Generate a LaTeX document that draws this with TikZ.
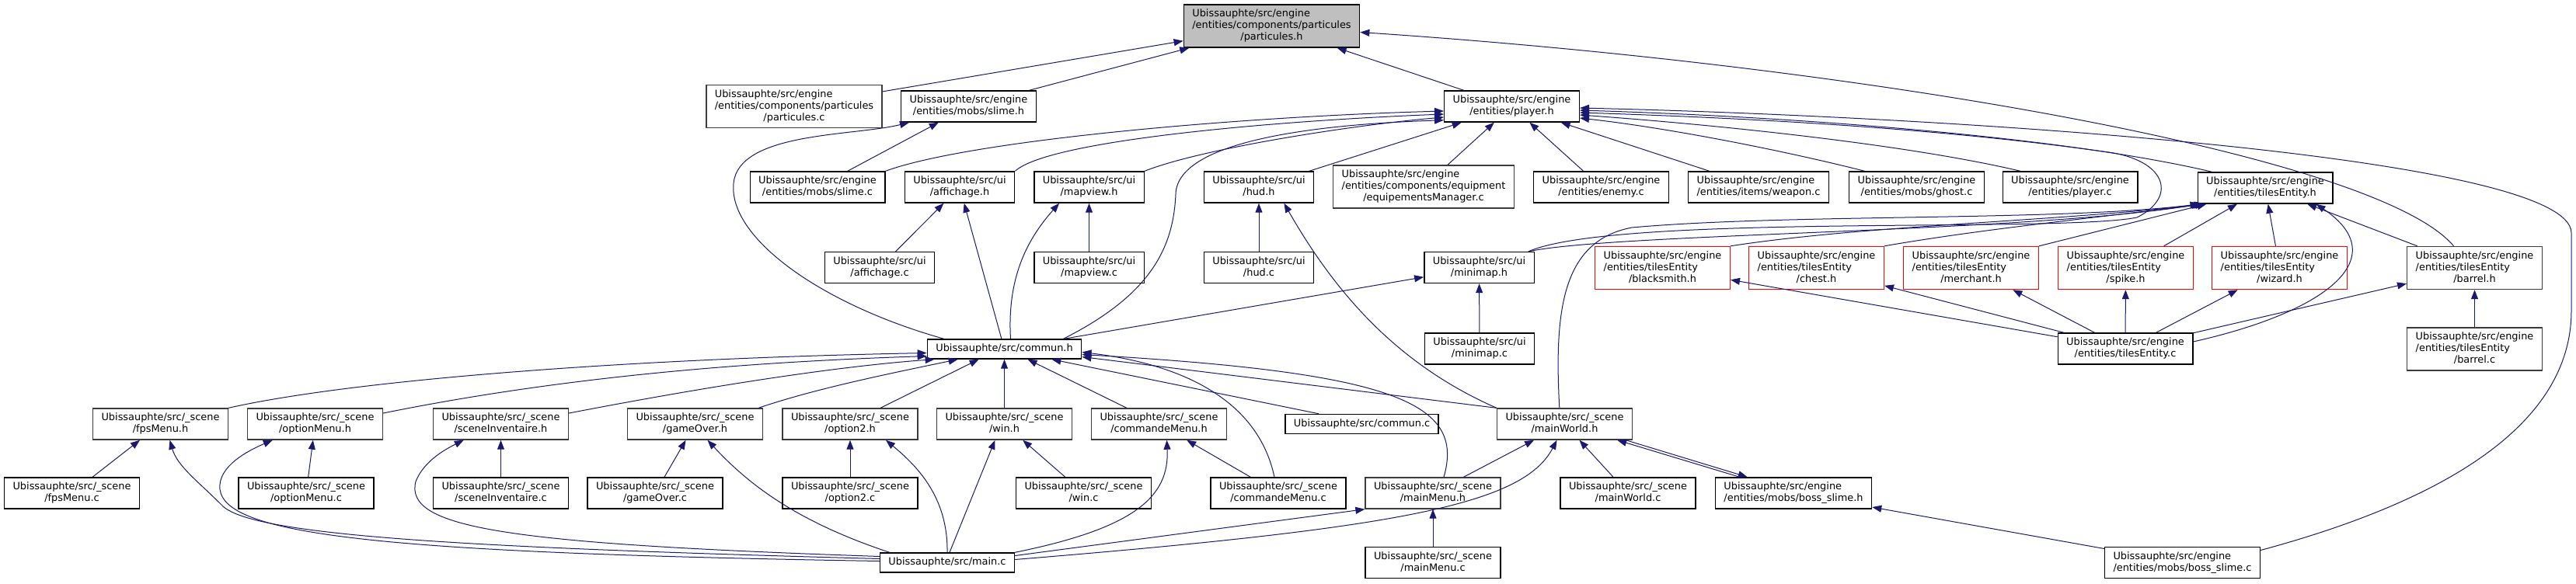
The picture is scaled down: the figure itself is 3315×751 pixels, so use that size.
\documentclass[tikz,border=0pt]{standalone}
\usepackage{fontspec}
\setmainfont{DejaVu Sans}
\usepackage{xcolor}
\usepackage{tikz}
\usetikzlibrary{arrows.meta,calc}
\definecolor{edgeblue}{RGB}{25,25,112}
\definecolor{rootgrey}{RGB}{191,191,191}
\definecolor{boxgrey}{RGB}{60,60,60}
\newcommand{\flab}[2]{\begin{tabular}{@{}l@{}}#1\\\multicolumn{1}{@{}c@{}}{#2}\end{tabular}}
\newcommand{\fone}[1]{\begin{tabular}{@{}c@{}}#1\end{tabular}}

\begin{document}
\begin{tikzpicture}[
  x=0.5pt, y=-0.5pt,
  srcfile/.style={draw=black,fill=white,rectangle,line width=0.7pt,
    inner xsep=5.5pt,inner ysep=2.5pt,
    font=\fontsize{6.45}{7.5}\selectfont},
  greyfile/.style={srcfile,draw=boxgrey},
  redfile/.style={srcfile,draw=red},
  rootfile/.style={srcfile,fill=rootgrey},
  inc/.style={-{Triangle[length=6pt,width=4.5pt]},draw=edgeblue,fill=none,line width=0.5pt}
]
\useasboundingbox (0,0) rectangle (3315,751);

% row 0 and 1
\node[rootfile] (ph) at (1636.5,33.5) {\flab{Ubissauphte/src/engine\\/entities/components/particules}{/particules.h}};
\node[greyfile] (pc) at (1022,137) {\flab{Ubissauphte/src/engine\\/entities/components/particules}{/particules.c}};
\node[srcfile] (slh) at (1246.5,137) {\flab{Ubissauphte/src/engine}{/entities/mobs/slime.h}};
\node[srcfile] (plh) at (1945.5,137) {\flab{Ubissauphte/src/engine}{/entities/player.h}};

% row 2
\node[srcfile] (slc) at (1052,241) {\flab{Ubissauphte/src/engine}{/entities/mobs/slime.c}};
\node[srcfile] (afh) at (1235,241) {\flab{Ubissauphte/src/ui}{/affichage.h}};
\node[srcfile] (mvh) at (1401.5,241) {\flab{Ubissauphte/src/ui}{/mapview.h}};
\node[srcfile] (hudh) at (1620,241) {\flab{Ubissauphte/src/ui}{/hud.h}};
\node[greyfile] (eqc) at (1832,240.5) {\flab{Ubissauphte/src/engine\\/entities/components/equipment}{/equipementsManager.c}};
\node[srcfile] (enc) at (2060.5,241) {\flab{Ubissauphte/src/engine}{/entities/enemy.c}};
\node[srcfile] (wpc) at (2263,241) {\flab{Ubissauphte/src/engine}{/entities/items/weapon.c}};
\node[srcfile] (ghc) at (2466.5,241) {\flab{Ubissauphte/src/engine}{/entities/mobs/ghost.c}};
\node[srcfile] (plc) at (2664,241) {\flab{Ubissauphte/src/engine}{/entities/player.c}};
\node[srcfile] (teh) at (2915,242) {\flab{Ubissauphte/src/engine}{/entities/tilesEntity.h}};

% row 3
\node[srcfile] (afc) at (1132,344.5) {\flab{Ubissauphte/src/ui}{/affichage.c}};
\node[srcfile] (mvc) at (1401.5,344.5) {\flab{Ubissauphte/src/ui}{/mapview.c}};
\node[srcfile] (hudc) at (1620,344.5) {\flab{Ubissauphte/src/ui}{/hud.c}};
\node[srcfile] (mmh) at (1903.5,344.5) {\flab{Ubissauphte/src/ui}{/minimap.h}};
\node[redfile] (bsh) at (2139.5,345) {\flab{Ubissauphte/src/engine\\/entities/tilesEntity}{/blacksmith.h}};
\node[redfile] (chh) at (2337.5,345) {\flab{Ubissauphte/src/engine\\/entities/tilesEntity}{/chest.h}};
\node[redfile] (meh) at (2536.5,345) {\flab{Ubissauphte/src/engine\\/entities/tilesEntity}{/merchant.h}};
\node[redfile] (sph) at (2735.5,345) {\flab{Ubissauphte/src/engine\\/entities/tilesEntity}{/spike.h}};
\node[redfile] (wzh) at (2933.5,345) {\flab{Ubissauphte/src/engine\\/entities/tilesEntity}{/wizard.h}};
\node[greyfile] (brh) at (3184.5,345) {\flab{Ubissauphte/src/engine\\/entities/tilesEntity}{/barrel.h}};

% row 4
\node[srcfile] (cmh) at (1292.5,449.5) {\fone{Ubissauphte/src/commun.h}};
\node[srcfile] (mmc) at (1904,449) {\flab{Ubissauphte/src/ui}{/minimap.c}};
\node[srcfile] (tec) at (2735,449) {\flab{Ubissauphte/src/engine}{/entities/tilesEntity.c}};
\node[greyfile] (brc) at (3184.5,449.5) {\flab{Ubissauphte/src/engine\\/entities/tilesEntity}{/barrel.c}};

% row 5
\node[greyfile] (fmh) at (206.5,546) {\flab{Ubissauphte/src/\_scene}{/fpsMenu.h}};
\node[greyfile] (omh) at (405.5,546) {\flab{Ubissauphte/src/\_scene}{/optionMenu.h}};
\node[greyfile] (sih) at (644.5,546) {\flab{Ubissauphte/src/\_scene}{/sceneInventaire.h}};
\node[greyfile] (goh) at (894.5,546) {\flab{Ubissauphte/src/\_scene}{/gameOver.h}};
\node[greyfile] (o2h) at (1094,546) {\flab{Ubissauphte/src/\_scene}{/option2.h}};
\node[greyfile] (wnh) at (1292.5,546) {\flab{Ubissauphte/src/\_scene}{/win.h}};
\node[greyfile] (cmmh) at (1491.5,546) {\flab{Ubissauphte/src/\_scene}{/commandeMenu.h}};
\node[srcfile] (cmc) at (1752.5,546) {\fone{Ubissauphte/src/commun.c}};
\node[greyfile] (mwh) at (2013.5,546) {\flab{Ubissauphte/src/\_scene}{/mainWorld.h}};

% row 6
\node[srcfile] (fmc) at (92.5,635) {\flab{Ubissauphte/src/\_scene}{/fpsMenu.c}};
\node[srcfile] (omc) at (394,635) {\flab{Ubissauphte/src/\_scene}{/optionMenu.c}};
\node[srcfile] (sic) at (644.5,635) {\flab{Ubissauphte/src/\_scene}{/sceneInventaire.c}};
\node[srcfile] (goc) at (843,635) {\flab{Ubissauphte/src/\_scene}{/gameOver.c}};
\node[srcfile] (o2c) at (1094,635) {\flab{Ubissauphte/src/\_scene}{/option2.c}};
\node[srcfile] (wnc) at (1394.5,635) {\flab{Ubissauphte/src/\_scene}{/win.c}};
\node[srcfile] (cmmc) at (1645,635) {\flab{Ubissauphte/src/\_scene}{/commandeMenu.c}};
\node[greyfile] (mmeh) at (1844,635) {\flab{Ubissauphte/src/\_scene}{/mainMenu.h}};
\node[srcfile] (mwc) at (2095,635) {\flab{Ubissauphte/src/\_scene}{/mainWorld.c}};
\node[srcfile] (bsl) at (2308,635) {\flab{Ubissauphte/src/engine}{/entities/mobs/boss\_slime.h}};

% row 7
\node[srcfile] (mainc) at (1219,724.5) {\fone{Ubissauphte/src/main.c}};
\node[srcfile] (mmec) at (1844,724.5) {\flab{Ubissauphte/src/\_scene}{/mainMenu.c}};
\node[srcfile] (bslc) at (2808.5,724.5) {\flab{Ubissauphte/src/engine}{/entities/mobs/boss\_slime.c}};

% particules.h
\draw[inc] (pc) -- (ph);
\draw[inc] (slh) -- (ph);
\draw[inc] (plh) -- (ph);
\draw[inc] ($(brh.north)+(-27,0)$) .. controls (3060,200) and (2400,85) .. ($(ph.east)+(0,8)$);

% slime.h
\draw[inc] (slc) -- (slh);
\draw[inc] ($(cmh.north west)+(22,0)$) .. controls (1050,390) and (930,300) .. (945,230)
  .. controls (960,170) and (1100,175) .. ($(slh.south west)+(11,0)$);

% player.h
\draw[inc] (slc.north east) .. controls (1250,180) and (1600,150) .. ($(plh.west)+(0,6)$);
\draw[inc] (afh.north east) .. controls (1350,180) and (1650,155) .. ($(plh.west)+(0,10)$);
\draw[inc] (mvh.north east) .. controls (1550,190) and (1750,160) .. ($(plh.west)+(0,14)$);
\draw[inc] ($(cmh.north east)+(-24,0)$) .. controls (1480,380) and (1510,320) .. (1513,250)
  .. controls (1515,180) and (1700,160) .. ($(plh.south west)+(0,-3)$);
\draw[inc] (hudh) -- (plh);
\draw[inc] (eqc) -- (plh);
\draw[inc] (enc) -- (plh);
\draw[inc] (wpc) -- (plh);
\draw[inc] ($(ghc.north)+(-67,0)$) .. controls (2300,195) and (2150,165) .. ($(plh.east)+(0,15)$);
\draw[inc] ($(plc.north)+(-64,0)$) .. controls (2450,185) and (2200,160) .. ($(plh.east)+(0,11)$);
\draw[inc] ($(teh.north west)+(19,0)$) .. controls (2650,175) and (2300,150) .. ($(plh.east)+(0,5)$);
\draw[inc] ($(bslc.east)+(0,-16)$) .. controls (3200,630) and (3309,520) .. (3309,400) -- (3309,300)
  .. controls (3309,200) and (2500,150) .. ($(plh.east)+(0,2)$);
\draw[inc] ($(mmh.north east)+(-8,0)$) .. controls (2080,275) and (2650,300) .. (2750,280)
  .. controls (2800,255) and (2790,210) .. (2720,197)
  .. controls (2500,165) and (2250,152) .. ($(plh.east)+(0,8)$);

% tilesEntity.h
\draw[inc] ($(mmh.north east)+(-8,0)$) .. controls (2080,300) and (2600,300) .. ($(teh.south west)+(5,0)$);
\draw[inc] ($(mwh.north west)+(81,0)$) .. controls (2000,400) and (2010,310) .. (2100,293)
  .. controls (2300,275) and (2650,285) .. ($(teh.south west)+(3,0)$);
\draw[inc] (bsh.north east) .. controls (2400,290) and (2650,285) .. ($(teh.south west)+(8,0)$);
\draw[inc] (chh.north east) .. controls (2550,295) and (2700,280) .. ($(teh.south west)+(10,0)$);
\draw[inc] (meh.north east) -- ($(teh.south west)+(12,0)$);
\draw[inc] (sph) -- (teh);
\draw[inc] (wzh) -- (teh);
\draw[inc] (brh) -- (teh);
\draw[inc] ($(tec.east)+(0,-9)$) .. controls (3000,400) and (3080,330) .. ($(teh.south east)+(-22,0)$);

% ui headers
\draw[inc] (mwh.north west) .. controls (1800,470) and (1720,380) .. ($(hudh.south east)+(-39,0)$);
\draw[inc] (hudc) -- (hudh);
\draw[inc] (afc) -- (afh);
\draw[inc] (cmh) -- (afh);
\draw[inc] (mvc) -- (mvh);
\draw[inc] ($(cmh.north)+(8,0)$) .. controls (1296,360) and (1320,310) .. ($(mvh.south west)+(33,0)$);
\draw[inc] (cmh) -- (mmh);
\draw[inc] (mmc) -- (mmh);

% commun.h
\draw[inc] (fmh.north east) .. controls (450,490) and (800,462) .. ($(cmh.west)+(0,5)$);
\draw[inc] ($(omh.east)+(0,-14)$) .. controls (750,480) and (1000,465) .. ($(cmh.west)+(0,9)$);
\draw[inc] ($(sih.east)+(0,-14)$) .. controls (950,490) and (1100,470) .. ($(cmh.south west)+(10,0)$);
\draw[inc] ($(goh.north east)+(-6,0)$) .. controls (1050,500) and (1150,480) .. ($(cmh.south west)+(40,0)$);
\draw[inc] ($(o2h.north)+(39,0)$) -- ($(cmh.south west)+(67,0)$);
\draw[inc] (wnh) -- (cmh);
\draw[inc] ($(cmmh.north west)+(46,0)$) -- ($(cmh.south)+(30,0)$);
\draw[inc] ($(cmc.north west)+(44,0)$) -- ($(cmh.south east)+(-39,0)$);
\draw[inc] ($(cmmc.north)+(-5,0)$) .. controls (1620,520) and (1530,470) .. ($(cmh.east)+(0,4)$);
\draw[inc] ($(mmeh.north)+(14,0)$) .. controls (1885,520) and (1800,480) .. ($(cmh.east)+(0,7)$);
\draw[inc] (mwh.north west) -- ($(cmh.east)+(0,10)$);

% scene headers
\draw[inc] (fmc) -- (fmh);
\draw[inc] ($(mainc.west)+(0,-5)$) .. controls (600,705) and (320,690) .. (285,650)
  .. controls (255,620) and (228,600) .. ($(fmh.south)+(12,0)$);
\draw[inc] (omc) -- (omh);
\draw[inc] ($(mainc.west)+(0,-2)$) .. controls (500,712) and (290,690) .. (283,630)
  .. controls (280,600) and (320,580) .. ($(omh.south west)+(33,0)$);
\draw[inc] (sic) -- (sih);
\draw[inc] ($(mainc.west)+(0,-8)$) .. controls (650,700) and (520,680) .. (535,620)
  .. controls (545,595) and (570,580) .. ($(sih.south west)+(40,0)$);
\draw[inc] (goc) -- (goh);
\draw[inc] ($(mainc.north west)+(13,0)$) .. controls (1020,670) and (960,620) .. ($(goh.south)+(16,0)$);
\draw[inc] (o2c) -- (o2h);
\draw[inc] (mainc.north) .. controls (1220,640) and (1180,600) .. ($(o2h.south)+(46,0)$);
\draw[inc] (wnc) -- (wnh);
\draw[inc] ($(mainc.north)+(3,0)$) -- ($(wnh.south)+(-12,0)$);
\draw[inc] (cmmc) -- (cmmh);
\draw[inc] (mainc.north east) .. controls (1460,680) and (1505,640) .. ($(cmmh.south)+(10,0)$);
\draw[inc] ($(mainc.east)+(0,-9)$) -- (mmeh.south west);
\draw[inc] (mmec) -- (mmeh);
\draw[inc] ($(mainc.east)+(0,-4)$) .. controls (1800,680) and (1960,650) .. ($(mwh.south)+(-10,0)$);
\draw[inc] (mmeh) -- (mwh);
\draw[inc] (mwc) -- (mwh);
\draw[inc] ($(bsl.north west)+(32,0)$) -- ($(mwh.south east)+(-20,0)$);
\draw[inc] ($(mwh.south east)+(-9,0)$) -- ($(bsl.north west)+(42,0)$);
\draw[inc] (bslc) -- (bsl);

% tilesEntity.c
\draw[inc] (tec) -- (bsh);
\draw[inc] (tec) -- (chh);
\draw[inc] (tec) -- (meh);
\draw[inc] (tec) -- (sph);
\draw[inc] (tec) -- (wzh);
\draw[inc] (tec) -- (brh);
\draw[inc] (brc) -- (brh);
\end{tikzpicture}
\end{document}
